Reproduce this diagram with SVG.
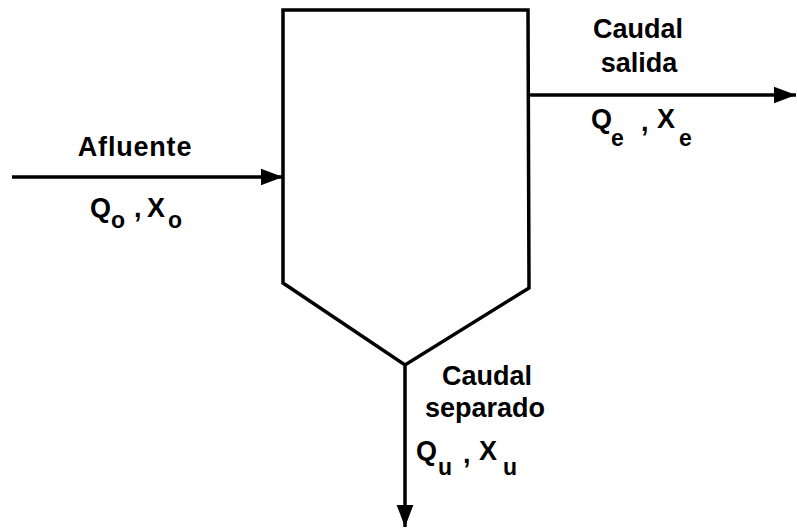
<svg xmlns="http://www.w3.org/2000/svg" width="797" height="531" viewBox="0 0 797 531">
<defs>
<marker id="ah" viewBox="0 0 10 10" refX="10" refY="5" markerWidth="22" markerHeight="22" markerUnits="userSpaceOnUse" orient="auto"><path d="M0,1.2 L10,5 L0,8.8 Z" fill="#000"/></marker>
</defs>
<style>
.ln{fill:none;stroke:#000;stroke-width:3.5;stroke-linejoin:miter}
.t{font-family:"Liberation Sans",Arial,sans-serif;font-weight:bold;font-size:27px;fill:#000}
.s{font-size:23px}
</style>
<rect width="797" height="531" fill="#fff"/>
<g id="tank">
<path class="ln" d="M283,10 L528,10 L529,288 L405,365 L283,283 Z"/>
</g>
<g id="connectors">
<line class="ln" x1="12" y1="177" x2="283" y2="177" marker-end="url(#ah)"/>
<line class="ln" x1="528" y1="95" x2="796" y2="95" marker-end="url(#ah)"/>
<line class="ln" x1="405" y1="365" x2="405" y2="527" marker-end="url(#ah)"/>
</g>
<g id="label-afluente">
<text class="t" x="135" y="156" text-anchor="middle" letter-spacing="0.8">Afluente</text>
<text class="t" x="90" y="217">Q</text>
<text class="t s" x="111" y="228">o</text>
<text class="t" x="134" y="217">,</text>
<text class="t" x="147" y="217">X</text>
<text class="t s" x="168" y="228">o</text>
</g>
<g id="label-salida">
<text class="t" x="638" y="38" text-anchor="middle">Caudal</text>
<text class="t" x="639" y="72" text-anchor="middle">salida</text>
<text class="t" x="591" y="128">Q</text>
<text class="t s" x="611" y="146">e</text>
<text class="t" x="641" y="131">,</text>
<text class="t" x="657" y="128">X</text>
<text class="t s" x="679" y="146">e</text>
</g>
<g id="label-separado">
<text class="t" x="487" y="385" text-anchor="middle">Caudal</text>
<text class="t" x="485" y="417" text-anchor="middle">separado</text>
<text class="t" x="416" y="460">Q</text>
<text class="t s" x="438" y="475">u</text>
<text class="t" x="463" y="463">,</text>
<text class="t" x="479" y="460">X</text>
<text class="t s" x="503" y="475">u</text>
</g>
</svg>
